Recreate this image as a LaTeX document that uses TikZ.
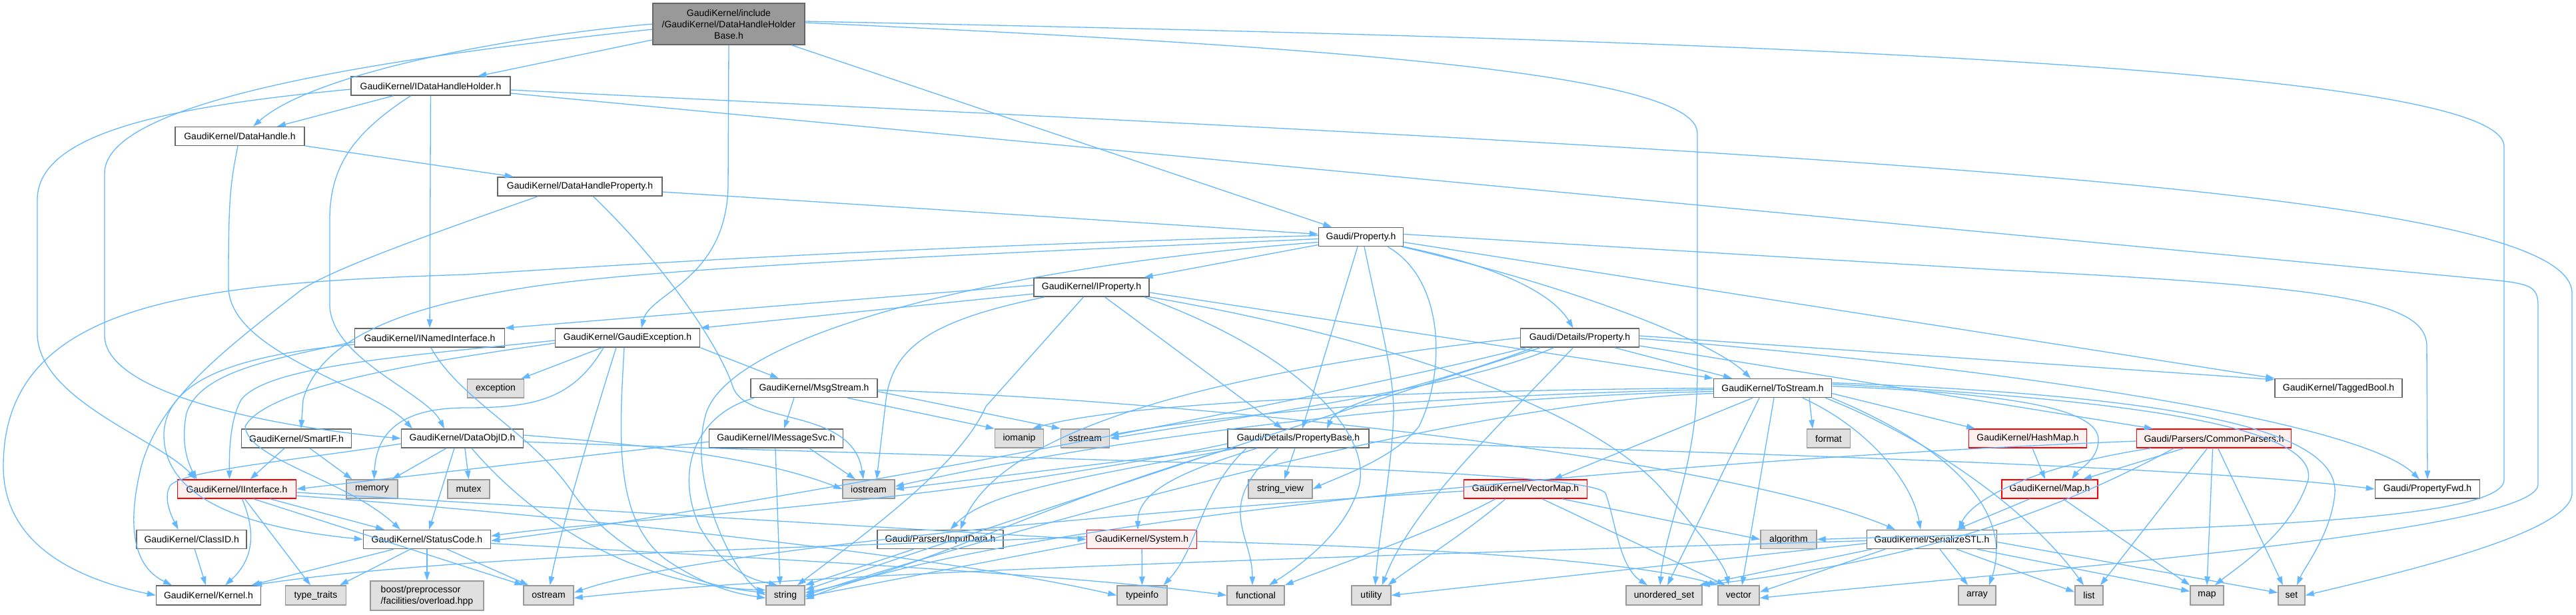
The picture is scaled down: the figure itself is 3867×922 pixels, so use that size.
\documentclass[tikz,border=0pt]{standalone}
\usepackage{fontspec}
\setmainfont{Liberation Sans}
\usetikzlibrary{arrows.meta}
\definecolor{edgeblue}{HTML}{63B8FF}
\definecolor{extfill}{HTML}{E0E0E0}
\definecolor{extdraw}{HTML}{999999}
\definecolor{nddraw}{HTML}{666666}
\definecolor{redfill}{HTML}{FFF0F0}
\definecolor{rootfill}{HTML}{999999}
\tikzset{
  base/.style={rectangle, inner sep=0pt, minimum height=28pt, line width=1.5pt, font=\fontsize{14}{17}\selectfont},
  nd/.style={base, draw=nddraw, fill=white},
  ext/.style={base, draw=extdraw, fill=extfill},
  trunc/.style={base, draw=red, fill=redfill},
  rootnd/.style={base, draw=nddraw, fill=rootfill, align=center, minimum height=62pt},
  e/.style={draw=edgeblue, line width=1.3pt, -{Triangle[length=13pt,width=8.5pt]}},
}
\begin{document}
\begin{tikzpicture}[x=1pt,y=-1pt]
\useasboundingbox (0,0) rectangle (3867,922);
\fill[white] (0,0) rectangle (3867,922);
% nodes
\node[rootnd, minimum width=228pt] (root) at (1094,36) {GaudiKernel/include\\/GaudiKernel/DataHandleHolder\\Base.h};
\node[nd, minimum width=239pt] (idhh) at (646.5,129) {GaudiKernel/IDataHandleHolder.h};
\node[nd, minimum width=194pt] (dh) at (360,204.5) {GaudiKernel/DataHandle.h};
\node[nd, minimum width=247pt] (dhp) at (870.5,280) {GaudiKernel/DataHandleProperty.h};
\node[nd, minimum width=127pt] (prop) at (2043,355.5) {Gaudi/Property.h};
\node[nd, minimum width=173pt] (iprop) at (1638.5,431) {GaudiKernel/IProperty.h};
\node[nd, minimum width=225pt] (inamed) at (645,507) {GaudiKernel/INamedInterface.h};
\node[nd, minimum width=217pt] (gexc) at (942,507) {GaudiKernel/GaudiException.h};
\node[nd, minimum width=178pt] (dprop) at (2371.5,507) {Gaudi/Details/Property.h};
\node[ext, minimum width=85pt] (exception) at (744,583) {exception};
\node[nd, minimum width=190pt] (msgs) at (1222,582.5) {GaudiKernel/MsgStream.h};
\node[nd, minimum width=177pt] (tostream) at (2661,582.5) {GaudiKernel/ToStream.h};
\node[nd, minimum width=191pt] (tagged) at (3510.5,582.5) {GaudiKernel/TaggedBool.h};
\node[nd, minimum width=165pt] (smartif) at (445,658) {GaudiKernel/SmartIF.h};
\node[nd, minimum width=183pt] (dataobjid) at (694,658) {GaudiKernel/DataObjID.h};
\node[nd, minimum width=201pt] (imsgsvc) at (1165,658) {GaudiKernel/IMessageSvc.h};
\node[ext, minimum width=73pt] (iomanip) at (1530,658) {iomanip};
\node[ext, minimum width=73pt] (sstream) at (1629,658) {sstream};
\node[nd, minimum width=212pt] (pbase) at (1949,658) {Gaudi/Details/PropertyBase.h};
\node[ext, minimum width=65pt] (format) at (2745,658) {format};
\node[trunc, minimum width=177pt] (hashmap) at (3044,658) {GaudiKernel/HashMap.h};
\node[trunc, minimum width=232pt] (cparsers) at (3323.6,658) {Gaudi/Parsers/CommonParsers.h};
\node[trunc, minimum width=178pt] (iinterface) at (355.5,734) {GaudiKernel/IInterface.h};
\node[ext, minimum width=77pt] (memory) at (558.5,734) {memory};
\node[ext, minimum width=63pt] (mutex) at (703.6,734) {mutex};
\node[ext, minimum width=78pt] (iostream) at (1304,734) {iostream};
\node[ext, minimum width=96pt] (strview) at (1922,734) {string\_view};
\node[trunc, minimum width=185pt] (vmap) at (2290,734) {GaudiKernel/VectorMap.h};
\node[trunc, minimum width=144pt] (maph) at (3077,734) {GaudiKernel/Map.h};
\node[nd, minimum width=157pt] (pfwd) at (3644,734) {Gaudi/PropertyFwd.h};
\node[nd, minimum width=165pt] (classid) at (287.7,809.5) {GaudiKernel/ClassID.h};
\node[nd, minimum width=191pt] (statuscode) at (641,809.5) {GaudiKernel/StatusCode.h};
\node[nd, minimum width=189pt] (inputdata) at (1411.5,809.5) {Gaudi/Parsers/InputData.h};
\node[trunc, minimum width=165pt] (system) at (1714,809.5) {GaudiKernel/System.h};
\node[ext, minimum width=84pt] (algorithm) at (2685,809.5) {algorithm};
\node[nd, minimum width=195pt] (sstl) at (2900,809.5) {GaudiKernel/SerializeSTL.h};
\node[nd, minimum width=157pt, minimum height=29pt] (kernel) at (313,893.5) {GaudiKernel/Kernel.h};
\node[ext, minimum width=91pt, minimum height=29pt] (typetraits) at (474,893.5) {type\_traits};
\node[ext, minimum width=170pt, minimum height=44pt, align=left] (boost) at (641,894) {boost/preprocessor\\/facilities/overload.hpp};
\node[ext, minimum width=75pt, minimum height=29pt] (ostream) at (823.6,893.5) {ostream};
\node[ext, minimum width=58pt, minimum height=29pt] (string) at (1179,893.5) {string};
\node[ext, minimum width=75pt, minimum height=29pt] (typeinfo) at (1714.5,893.5) {typeinfo};
\node[ext, minimum width=86pt, minimum height=29pt] (functional) at (1885,893.5) {functional};
\node[ext, minimum width=59pt, minimum height=29pt] (utility) at (2058.4,893.5) {utility};
\node[ext, minimum width=114pt, minimum height=29pt] (uset) at (2498,893.5) {unordered\_set};
\node[ext, minimum width=62pt, minimum height=29pt] (vector) at (2610,893.5) {vector};
\node[ext, minimum width=56pt, minimum height=29pt] (array) at (2968,893.5) {array};
\node[ext, minimum width=42pt, minimum height=29pt] (list) at (3136,893.5) {list};
\node[ext, minimum width=50pt, minimum height=29pt] (mapstd) at (3313,893.5) {map};
\node[ext, minimum width=40pt, minimum height=29pt] (set) at (3440,893.5) {set};
% edges: root
\draw[e] (root) -- (idhh);
\draw[e] (root.west) .. controls (760,55) and (470,110) .. ([xshift=20pt]dh.north);
\draw[e] ([yshift=-8pt]root.west) .. controls (500,95) and (157,160) .. (157,260) -- (157,505) .. controls (160,590) and (400,640) .. (dataobjid.west);
\draw[e] (root.south) -- (1093,280) .. controls (1090,420) and (975,440) .. ([xshift=21pt]gexc.north);
\draw[e] (root) -- (prop);
\draw[e] ([yshift=4pt]root.east) .. controls (2600,60) and (3759,100) .. (3759,220) -- (3759,720) .. controls (3759,790) and (3200,795) .. (algorithm.east);
\draw[e] ([yshift=2pt]root.east) .. controls (2000,70) and (2548,110) .. (2548,200) -- (2548,560) .. controls (2548,700) and (2500,790) .. ([xshift=-6pt]uset.north);
% idhh
\draw[e] (idhh) -- (dh);
\draw[e] (idhh) -- (inamed);
\draw[e] ([xshift=-30pt]idhh.south) .. controls (530,200) and (495,250) .. (495,330) -- (495,460) .. controls (500,540) and (640,590) .. ([xshift=-27pt]dataobjid.north);
\draw[e] ([yshift=-5pt]idhh.west) .. controls (250,160) and (56,200) .. (56,300) -- (56,500) .. controls (56,600) and (240,660) .. ([xshift=-62pt]iinterface.north);
\draw[e] ([yshift=-6pt]idhh.east) .. controls (2700,230) and (3861,280) .. (3861,440) -- (3861,740) .. controls (3861,800) and (3600,860) .. (set.east);
\draw[e] ([yshift=-11pt]idhh.east) -- (3740,420) .. controls (3800,426) and (3810,430) .. (3810,460) -- (3810,727) .. controls (3810,800) and (3000,860) .. ([yshift=-4pt]vector.east);
% dh
\draw[e] (dh) -- (dhp);
\draw[e] ([xshift=-3pt]dh.south) .. controls (345,280) and (343,300) .. (343,430) .. controls (343,530) and (560,580) .. ([xshift=-75pt]dataobjid.north);
% dhp
\draw[e] (dhp) -- (prop);
\draw[e] ([xshift=-63pt]dhp.south) .. controls (650,350) and (480,410) .. (446,440) .. controls (330,530) and (240,600) .. (212,700) .. controls (190,790) and (200,850) .. ([xshift=-55pt]kernel.north);
\draw[e] ([xshift=20pt]dhp.south) .. controls (1000,400) and (1080,520) .. (1100,580) .. controls (1120,640) and (1280,610) .. ([xshift=-8pt]iostream.north);
% prop
\draw[e] (prop) -- (iprop);
\draw[e] (prop.south east) .. controls (2250,400) and (2330,440) .. ([xshift=-10pt]dprop.north);
\draw[e] ([xshift=-3pt]prop.south east) .. controls (2400,440) and (2580,520) .. ([xshift=-33pt]tostream.north);
\draw[e] ([xshift=-5pt]prop.south) -- ([xshift=6pt]pbase.north);
\draw[e] ([xshift=5pt]prop.south) .. controls (2075,500) and (2092,560) .. (2092,620) .. controls (2090,700) and (2070,800) .. ([xshift=6pt]utility.north);
\draw[e] ([xshift=40pt]prop.south) .. controls (2170,420) and (2170,560) .. (2130,640) .. controls (2090,690) and (2010,715) .. (strview.east);
\draw[e] ([yshift=4pt]prop.east) -- (3000,405) .. controls (3500,430) and (3643,450) .. (3643,520) -- (pfwd.north);
\draw[e] ([yshift=-8pt]prop.east) -- (tagged.north west);
\draw[e] ([yshift=2pt]prop.west) .. controls (1300,372) and (900,400) .. (700,412) .. controls (300,425) and (5,450) .. (5,700) .. controls (5,820) and (120,870) .. (kernel.west);
\draw[e] ([yshift=-3pt]prop.west) .. controls (1500,380) and (1000,400) .. (800,430) .. controls (600,460) and (480,510) .. (455,600) -- ([xshift=7pt]smartif.north);
\draw[e] ([yshift=-8pt]prop.west) .. controls (1500,400) and (1100,500) .. (1060,620) .. controls (1030,720) and (1100,860) .. (string.west);
% iprop
\draw[e] ([yshift=3pt]iprop.west) -- (inamed.north east);
\draw[e] ([yshift=-10pt]iprop.west) -- (gexc.north east);
\draw[e] ([xshift=-70pt]iprop.south) .. controls (1400,480) and (1340,520) .. (1330,600) -- ([xshift=12pt]iostream.north);
\draw[e] ([xshift=-12pt]iprop.south) -- (1480,610) .. controls (1440,700) and (1300,800) .. ([xshift=18pt]string.north);
\draw[e] ([xshift=20pt]iprop.south) -- ([xshift=-24pt]pbase.north);
\draw[e] ([yshift=-8pt]iprop.east) -- (tostream.north west);
\draw[e] (iprop.south east) .. controls (2100,510) and (2400,620) .. (2500,740) .. controls (2560,810) and (2590,850) .. ([xshift=-15pt]vector.north);
\draw[e] ([xshift=-8pt]iprop.south east) .. controls (1950,530) and (2060,650) .. (2040,730) .. controls (2020,800) and (1950,850) .. ([xshift=20pt]functional.north);
% inamed
\draw[e] ([yshift=-6pt]inamed.west) .. controls (400,540) and (300,560) .. (280,620) .. controls (270,670) and (285,700) .. ([xshift=-60pt]iinterface.north);
\draw[e] ([yshift=-10pt]inamed.west) .. controls (330,535) and (250,580) .. (246,650) .. controls (244,760) and (400,795) .. (statuscode.west);
\draw[e] ([xshift=2pt]inamed.south) .. controls (690,600) and (800,650) .. (860,740) .. controls (930,840) and (1050,880) .. ([yshift=4pt]string.west);
% gexc
\draw[e] (gexc) -- (exception);
\draw[e] (gexc.south east) -- ([xshift=-53pt]msgs.north);
\draw[e] ([yshift=-4pt]gexc.west) .. controls (600,535) and (400,550) .. (362,600) .. controls (345,630) and (344,680) .. ([xshift=-11pt]iinterface.north);
\draw[e] ([yshift=-8pt]gexc.west) .. controls (640,542) and (400,580) .. (368,640) .. controls (372,690) and (520,720) .. ([xshift=-40pt]statuscode.north);
\draw[e] ([xshift=-36pt]gexc.south) .. controls (860,600) and (800,612) .. (700,612) .. controls (600,612) and (565,650) .. ([xshift=3pt]memory.north);
\draw[e] ([xshift=-17pt]gexc.south) .. controls (900,600) and (840,800) .. ([xshift=2pt]ostream.north);
\draw[e] ([xshift=-5pt]gexc.south) .. controls (930,650) and (920,780) .. (1000,840) .. controls (1060,880) and (1100,890) .. ([yshift=-4pt]string.west);
% msgs
\draw[e] ([xshift=-30pt]msgs.south) -- ([xshift=12pt]imsgsvc.north);
\draw[e] ([xshift=50pt]msgs.south) -- (iomanip.north west);
\draw[e] ([yshift=-5pt]msgs.east) -- (sstream.north west);
\draw[e] ([xshift=-90pt]msgs.south) .. controls (1050,620) and (1010,700) .. (1050,790) .. controls (1090,860) and (1130,870) .. ([xshift=-12pt]string.north);
\draw[e] ([yshift=-3pt]msgs.east) .. controls (1800,600) and (2600,690) .. ([xshift=-55pt]sstl.north);
% imsgsvc
\draw[e] ([yshift=-5pt]imsgsvc.west) -- (iinterface.east);
\draw[e] ([xshift=50pt]imsgsvc.south) -- ([xshift=-20pt]iostream.north);
\draw[e] ([xshift=-1pt]imsgsvc.south) -- ([xshift=-8pt]string.north);
% smartif
\draw[e] ([xshift=-18pt]smartif.south) -- ([xshift=20pt]iinterface.north);
\draw[e] ([xshift=20pt]smartif.south) -- ([xshift=-30pt]memory.north);
% dataobjid
\draw[e] ([xshift=-24pt]dataobjid.south) -- ([xshift=30pt]memory.north);
\draw[e] ([xshift=-12pt]dataobjid.south) -- ([xshift=3pt]statuscode.north);
\draw[e] ([xshift=4pt]dataobjid.south) -- (mutex.north);
\draw[e] ([yshift=-8pt]dataobjid.west) .. controls (450,690) and (280,705) .. (256,728) .. controls (245,745) and (255,770) .. ([xshift=-20pt]classid.north);
\draw[e] ([xshift=14pt]dataobjid.south) .. controls (800,780) and (950,880) .. ([yshift=8pt]string.west);
\draw[e] ([yshift=5pt]dataobjid.east) .. controls (1000,670) and (1150,690) .. (iostream.west);
\draw[e] ([yshift=-5pt]dataobjid.east) .. controls (1500,690) and (2380,700) .. (2410,740) .. controls (2425,780) and (2430,850) .. ([xshift=-25pt]uset.north);
% classid
\draw[e] (classid) -- ([xshift=-4pt]kernel.north);
% iinterface
\draw[e] ([xshift=8pt]iinterface.south) .. controls (385,800) and (380,840) .. ([xshift=25pt]kernel.north);
\draw[e] ([xshift=50pt]iinterface.south) -- ([xshift=-64pt]statuscode.north);
\draw[e] ([xshift=12pt]iinterface.south) -- ([xshift=-8pt]typetraits.north);
\draw[e] ([xshift=25pt]iinterface.south) -- (ostream.north west);
\draw[e] ([yshift=-5pt]iinterface.east) -- (system.west);
\draw[e] ([yshift=-10pt]iinterface.east) .. controls (800,770) and (1400,830) .. (typeinfo.west);
% statuscode
\draw[e] ([xshift=-50pt]statuscode.south) -- ([xshift=-15pt]kernel.north east);
\draw[e] ([xshift=-25pt]statuscode.south) -- ([xshift=36pt]typetraits.north);
\draw[e] (statuscode.south) -- (boost.north);
\draw[e] ([xshift=30pt]statuscode.south) -- ([xshift=8pt]ostream.north west);
\draw[e] ([yshift=-6pt]statuscode.east) .. controls (1000,830) and (1600,860) .. (functional.west);
% system
\draw[e] ([yshift=4pt]system.west) .. controls (1300,820) and (700,830) .. ([xshift=-12pt]kernel.north east);
\draw[e] ([yshift=-5pt]system.west) -- ([yshift=-2pt]string.east);
\draw[e] (system) -- (typeinfo);
\draw[e] ([yshift=-3pt]system.east) .. controls (2100,820) and (2450,840) .. (vector.north west);
% pbase
\draw[e] ([xshift=-5pt]pbase.south) -- ([xshift=6pt]strview.north);
\draw[e] ([xshift=-62pt]pbase.south) .. controls (1800,700) and (1708,730) .. ([xshift=-6pt]system.north);
\draw[e] ([xshift=-78pt]pbase.south) .. controls (1800,740) and (1800,820) .. ([xshift=-6pt]typeinfo.north east);
\draw[e] ([xshift=-30pt]pbase.south) .. controls (1820,760) and (1880,800) .. ([xshift=-5pt]functional.north);
\draw[e] (pbase.south west) -- (iostream.east);
\draw[e] ([xshift=-92pt]pbase.south) .. controls (1600,720) and (1480,740) .. ([xshift=15pt]inputdata.north);
\draw[e] ([xshift=-100pt]pbase.south) .. controls (1550,760) and (1400,850) .. ([yshift=4pt]string.east);
\draw[e] ([yshift=-5pt]pbase.east) .. controls (2600,680) and (3300,700) .. (pfwd.west);
\draw[e] ([yshift=-8pt]pbase.west) .. controls (1400,760) and (900,780) .. ([yshift=5pt]statuscode.east);
% dprop
\draw[e] ([xshift=52pt]dprop.south) -- ([xshift=-61pt]tostream.north);
\draw[e] ([yshift=3pt]dprop.east) -- ([yshift=-2pt]tagged.north west);
\draw[e] ([yshift=-12pt]dprop.east) -- ([xshift=25pt]cparsers.north west);
\draw[e] ([yshift=-1pt]dprop.east) .. controls (3100,560) and (3550,640) .. ([xshift=-12pt]pfwd.north);
\draw[e] (dprop.west) .. controls (1800,560) and (1500,650) .. ([xshift=30pt]inputdata.north);
\draw[e] ([xshift=-59pt]dprop.south) .. controls (2000,620) and (1400,820) .. ([yshift=8pt]string.east);
\draw[e] ([xshift=-39pt]dprop.south) .. controls (2200,580) and (1900,620) .. (sstream.east);
\draw[e] ([xshift=-10pt]dprop.south) .. controls (2250,640) and (2120,760) .. ([xshift=-14pt]utility.north east);
\draw[e] ([xshift=-70pt]dprop.south) .. controls (2150,580) and (2010,600) .. ([xshift=43pt]pbase.north);
\draw[e] ([xshift=-80pt]dprop.south) .. controls (1900,620) and (1000,780) .. ([yshift=-2pt]statuscode.east);
% tostream
\draw[e] ([xshift=-30pt]tostream.south) -- ([xshift=42pt]vmap.north);
\draw[e] ([xshift=55pt]tostream.south) -- ([xshift=-24pt]format.north);
\draw[e] ([yshift=-8pt]tostream.east) -- ([xshift=-79pt]hashmap.north);
\draw[e] ([yshift=3pt]tostream.east) .. controls (3000,590) and (3150,610) .. (3150,660) .. controls (3150,690) and (3120,705) .. ([xshift=33pt]maph.north);
\draw[e] ([xshift=45pt]tostream.south) .. controls (2800,640) and (2870,720) .. ([xshift=-17pt]sstl.north);
\draw[e] (tostream.south east) .. controls (2950,680) and (3020,780) .. ([xshift=18pt]array.north);
\draw[e] ([xshift=-10pt]tostream.south east) .. controls (2900,660) and (3050,770) .. ([xshift=-8pt]list.north);
\draw[e] ([yshift=6pt]tostream.east) .. controls (3200,600) and (3480,640) .. (3465,720) .. controls (3440,800) and (3360,850) .. ([xshift=12pt]mapstd.north);
\draw[e] ([yshift=8pt]tostream.east) .. controls (3300,595) and (3510,650) .. (3505,740) .. controls (3500,800) and (3460,850) .. ([xshift=8pt]set.north);
\draw[e] ([xshift=2pt]tostream.south) -- ([xshift=5pt]vector.north);
\draw[e] ([xshift=-20pt]tostream.south) -- ([xshift=5pt]uset.north);
\draw[e] ([yshift=-2pt]tostream.west) .. controls (2300,590) and (1900,610) .. ([yshift=5pt]sstream.east);
\draw[e] ([yshift=-5pt]tostream.west) .. controls (2200,595) and (1700,650) .. ([yshift=4pt]iostream.east);
\draw[e] ([yshift=-8pt]tostream.west) .. controls (2200,600) and (1500,800) .. (string.east);
\draw[e] ([yshift=0pt]tostream.west) .. controls (2200,585) and (1700,600) .. ([xshift=20pt]iomanip.north);
% vmap
\draw[e] ([xshift=55pt]vmap.south) -- (algorithm.west);
\draw[e] ([xshift=-30pt]vmap.south) .. controls (2200,800) and (2120,850) .. ([xshift=-5pt]utility.north east);
\draw[e] ([xshift=25pt]vmap.south) -- ([xshift=-20pt]vector.north);
\draw[e] ([xshift=-45pt]vmap.south) .. controls (2150,800) and (2000,850) .. (functional.north east);
\draw[e] ([yshift=-3pt]vmap.west) .. controls (1500,780) and (1000,840) .. ([yshift=4pt]ostream.east);
% sstl
\draw[e] ([xshift=-70pt]sstl.south) -- ([yshift=5pt]vector.east);
\draw[e] ([xshift=-90pt]sstl.south) -- ([xshift=-5pt]uset.north east);
\draw[e] ([yshift=-6pt]sstl.west) -- (utility.east);
\draw[e] ([yshift=-2pt]sstl.west) .. controls (2000,835) and (1200,860) .. ([yshift=-4pt]ostream.east);
\draw[e] ([xshift=12pt]sstl.south) -- ([xshift=-14pt]array.north);
\draw[e] ([xshift=37pt]sstl.south) -- ([yshift=5pt]list.west);
\draw[e] ([xshift=68pt]sstl.south) -- ([yshift=6pt]mapstd.west);
\draw[e] ([yshift=-4pt]sstl.east) -- ([yshift=4pt]set.west);
% maph, hashmap, cparsers
\draw[e] ([xshift=-30pt]maph.south) -- ([xshift=37pt]sstl.north);
\draw[e] ([xshift=20pt]maph.south) -- (mapstd.north west);
\draw[e] ([xshift=7pt]hashmap.south) -- ([xshift=-7pt]maph.north);
\draw[e] ([xshift=-45pt]cparsers.south) -- ([xshift=50pt]maph.north);
\draw[e] ([xshift=-10pt]cparsers.south) -- ([xshift=17pt]list.north);
\draw[e] ([xshift=-2pt]cparsers.south) -- (mapstd.north);
\draw[e] ([xshift=6pt]cparsers.south) -- ([xshift=-13pt]set.north);
\draw[e] ([xshift=-95pt]cparsers.south) .. controls (3050,700) and (2960,750) .. ([xshift=40pt]sstl.north);
\draw[e] ([xshift=-60pt]cparsers.south) .. controls (3100,760) and (2900,840) .. ([xshift=-2pt]uset.north east);
\draw[e] ([yshift=-4pt]cparsers.west) .. controls (2500,690) and (1500,780) .. ([yshift=-6pt]string.east);
% inputdata
\draw[e] ([xshift=-40pt]inputdata.south) -- (string.north east);
\end{tikzpicture}
\end{document}
